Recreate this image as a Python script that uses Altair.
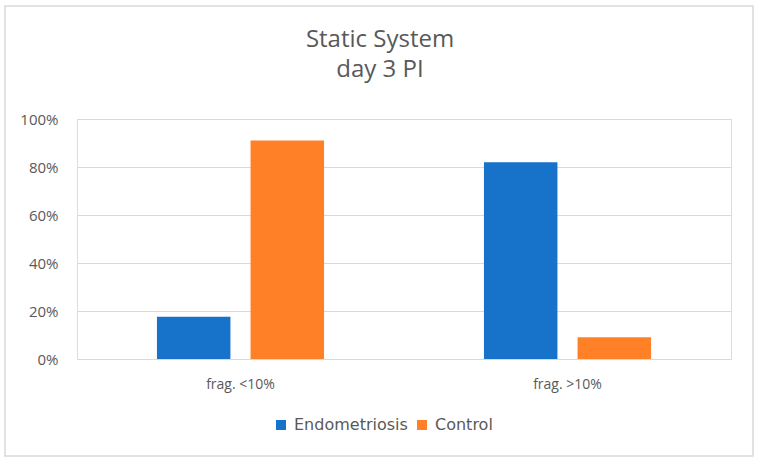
import altair as alt
import pandas as pd

# Share of embryos per fragmentation class, static culture system, day 3 post-insemination
categories = ["frag. <10%", "frag. >10%"]
series = ["Endometriosis", "Control"]
endometriosis = [0.176, 0.820]
control = [0.910, 0.091]

colors = ["#1772C9", "#FF8027"]
text_color = "#595959"
grid_color = "#D9D9D9"
font = "Open Sans"

rows = []
for i, cat in enumerate(categories):
    rows.append({"category": cat, "group": series[0], "share": endometriosis[i]})
    rows.append({"category": cat, "group": series[1], "share": control[i]})
df = pd.DataFrame(rows)

W, H = 654, 240
LEFT, TOP = 77, 119

bars = alt.Chart(df).mark_bar().encode(
    x=alt.X(
        "category:N",
        sort=categories,
        title=None,
        scale=alt.Scale(paddingInner=0.489, paddingOuter=0.2445),
        axis=alt.Axis(
            labelAngle=0, ticks=False, domain=False, labelPadding=18,
            labelFontSize=14, labelColor=text_color, labelFont=font,
        ),
    ),
    xOffset=alt.XOffset(
        "group:N", sort=series,
        scale=alt.Scale(paddingInner=0.215, paddingOuter=0),
    ),
    y=alt.Y(
        "share:Q",
        title=None,
        scale=alt.Scale(domain=[0, 1], nice=False),
        axis=alt.Axis(
            values=[0, 0.2, 0.4, 0.6, 0.8, 1.0], format=".0%",
            ticks=False, domain=False, labelPadding=19,
            labelFontSize=15, labelColor=text_color, labelFont=font,
            gridColor=grid_color, gridWidth=1.2,
        ),
    ),
    color=alt.Color(
        "group:N",
        sort=series,
        scale=alt.Scale(domain=series, range=colors),
        legend=alt.Legend(
            title=None, orient="none", direction="horizontal",
            legendX=196, legendY=298, symbolType="square", symbolSize=100,
            symbolStrokeWidth=0, labelFontSize=16, labelFont="DejaVu Sans",
            labelColor=text_color, labelOffset=5, columnPadding=6, padding=0,
        ),
    ),
)

# light frame around the whole figure
frame = alt.Chart(pd.DataFrame({"k": [0]})).mark_rect(
    fill=None, stroke=grid_color, strokeWidth=1.5
).encode(
    x=alt.value(5 - LEFT), x2=alt.value(753 - LEFT),
    y=alt.value(6 - TOP), y2=alt.value(456 - TOP),
)

chart = alt.layer(frame, bars).properties(
    width=W, height=H,
    title=alt.TitleParams(
        ["Static System", "day 3 PI"], fontSize=24, font=font,
        fontWeight="normal", color=text_color, anchor="middle",
        lineHeight=30, offset=-77, dx=-24,
    ),
    autosize=alt.AutoSizeParams(type="none"),
    padding={"left": LEFT, "top": TOP, "right": 760 - LEFT - W, "bottom": 464 - TOP - H},
).configure_view(stroke=None).configure(background="white")

chart.save("out.html", embed_options={"renderer": "svg", "actions": False})
